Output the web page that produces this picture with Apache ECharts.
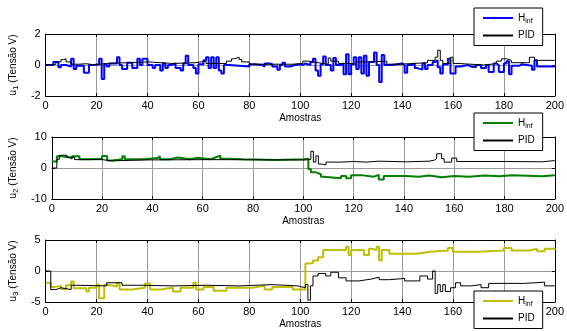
<!DOCTYPE html>
<html>
<head>
<meta charset="utf-8">
<script src="https://cdn.jsdelivr.net/npm/echarts@6/dist/echarts.min.js"></script>
<style>
html, body { margin: 0; padding: 0; background: #fff; }
#chart { width: 567px; height: 331px; }
</style>
</head>
<body>
<div id="chart"></div>
<script>
// pontos [amostra, tensão] (degraus)
var u1Hinf = [[0,0],[3,0.2],[5,-0.15],[6,0],[8,-0.1],[10,0.4],[11,-0.25],[12,-0.05],[15,-0.5],[17,0],[19,0.05],[21,0.4],[22,-0.9],[23,0.05],[24,-0.1],[25,0.1],[28,0.5],[29,0],[30,-0.25],[32,0.15],[34,-0.2],[36,0.4],[37,0],[38,0.4],[40,0],[42,-0.2],[43,0],[45,-0.35],[46,0.1],[47,-0.2],[48,0],[49,0.1],[51,-0.2],[53,-0.35],[54,0.1],[55,0.6],[56,0],[58,-0.2],[59,-0.55],[60,0.05],[62,0.3],[63,0.5],[64,-0.2],[65,0.5],[66,-0.2],[67,0.5],[68,-0.35],[69,-0.55],[70,0],[72,-0.05],[76,-0.1],[80,0.05],[82,0],[85,-0.1],[86,0.1],[88,0.05],[89,-0.1],[91,-0.3],[92,0],[93,0.15],[94,-0.1],[96,0],[98,0.05],[100,0],[101,0.1],[102,0],[104,0.2],[105,0.4],[106,-0.35],[107,-0.7],[108,0.05],[109,0.55],[110,0],[112,-0.35],[113,0.45],[114,0],[116,0.1],[117,-0.6],[118,0.7],[119,-0.6],[120,0.05],[121,0.5],[122,-0.25],[123,0.5],[124,-0.55],[125,0.6],[126,-0.7],[127,0.2],[129,0.8],[130,0],[131,-1.1],[132,0.65],[133,0],[136,0.05],[138,0.1],[140,0],[141,-0.5],[142,0],[144,0.1],[145,-0.2],[146,-0.3],[148,0.1],[149,-0.25],[150,0],[152,0.2],[153,0.3],[154,-0.15],[155,-0.55],[156,0.05],[158,0.4],[159,-0.55],[161,-0.1],[163,0],[166,-0.1],[167,-0.15],[169,0],[171,-0.2],[173,0],[174,-0.45],[176,0.1],[177,0],[178,-0.45],[180,0.1],[181,0.25],[182,-0.6],[183,-0.05],[186,0.05],[187,-0.05],[191,-0.3],[192,0.3],[193,-0.1],[200,-0.1]];
var u1Pid = [[0,0],[2,0.05],[4,0.2],[6,0.35],[7,0.4],[8,0.2],[10,0.05],[13,0.08],[16,0.02],[19,0.1],[24,0.15],[32,0.2],[40,0.18],[42,0.1],[50,0.15],[59,0.25],[63,0.1],[71,0.25],[73,0.4],[74,0.5],[76,0.35],[77,0.2],[80,0.05],[97,0.1],[101,0.25],[103,0.15],[107,0.05],[111,0.45],[112,0.25],[115,0.1],[119,0.05],[122,0.2],[128,0.25],[134,0.05],[139,0.15],[150,0.3],[153,0.5],[154,0.95],[155,0.3],[156,0.1],[159,0.5],[160,0.1],[162,0],[172,0.05],[175,0.1],[177,0.25],[179,0.4],[181,0.3],[183,0.15],[189,0.15],[190,0.5],[192,0.3],[200,0.3]];

var u2Hinf = [[0,2.1],[2,3.8],[4,3.5],[7,3.0],[8,3.8],[11,2.8],[15,3.0],[20,3.9],[22,2.4],[24,2.8],[28,3.8],[29,2.8],[37,3.2],[42,3.8],[43,2.8],[47,3.4],[50,2.8],[55,3.3],[58,2.8],[63,3.4],[65,4.0],[67,3.0],[71,2.8],[76,2.6],[89,2.8],[100,3.0],[102,-0.3],[103,-1.4],[105,-2.0],[107,-2.8],[108,-3.3],[115,-2.6],[117,-3.3],[119,-2.3],[123,-2.8],[128,-2.2],[130,-3.7],[132,-2.6],[141,-2.8],[146,-2.4],[150,-3.0],[155,-2.6],[160,-2.8],[166,-2.4],[172,-2.7],[178,-2.3],[183,-2.7],[195,-2.3],[200,-2.3]];
var u2Pid = [[0,0],[2,2.8],[3,4.1],[6,3.4],[9,2.7],[20,2.3],[24,2.6],[37,2.7],[63,2.6],[101,2.8],[103,5.4],[104,1.9],[105,3.9],[106,1.3],[107,1.0],[109,1.9],[115,2.1],[120,1.9],[125,2.2],[130,2.0],[141,2.2],[150,2.5],[152,3.0],[153,4.6],[155,3.0],[156,1.9],[159,3.2],[161,2.1],[180,2.0],[195,2.4],[200,2.4]];

var u3Hinf = [[0,-1.9],[2,-2.6],[3,-2.4],[6,-2.9],[8,-2.3],[10,-1.7],[11,-2.8],[16,-3.3],[17,-2.7],[20,-2.2],[21,-4.4],[23,-2.2],[24,-2.5],[28,-1.9],[29,-3.0],[34,-2.7],[39,-2.0],[41,-3.0],[45,-2.7],[50,-3.3],[53,-2.7],[58,-1.9],[59,-3.0],[62,-2.6],[66,-3.2],[71,-2.7],[81,-2.4],[86,-3.0],[89,-2.6],[97,-3.0],[102,1.2],[103,1.3],[105,1.7],[107,2.2],[109,3.4],[118,3.9],[119,2.6],[120,3.4],[125,2.6],[127,3.6],[128,3.4],[130,3.9],[131,1.7],[132,3.4],[135,2.8],[146,3.1],[151,3.3],[158,3.7],[160,3.1],[170,3.3],[180,3.7],[183,3.3],[190,3.6],[193,3.2],[196,3.6],[200,3.4]];
var u3Pid = [[0,0],[2,-3.0],[4,-2.7],[6,-3.0],[10,-2.3],[12,-2.4],[24,-1.9],[30,-2.3],[37,-2.4],[50,-2.3],[63,-2.4],[76,-2.2],[89,-2.4],[99,-2.7],[102,-2.2],[103,-4.7],[104,-2.4],[105,-0.8],[107,-0.4],[110,-0.8],[112,-0.2],[115,-1.1],[118,-1.6],[123,-1.3],[128,-1.0],[131,-1.4],[135,-1.2],[141,-1.6],[147,-0.8],[150,-1.3],[152,0.0],[153,-3.6],[154,-2.2],[155,-3.3],[156,-2.2],[157,-3.3],[159,-2.7],[161,-1.9],[163,-2.4],[167,-2.2],[171,-2.7],[174,-2.0],[188,-1.8],[196,-2.4],[200,-2.4]];

var yLimits = [2, 10, 5];
var yNames = ['1', '2', '3'];
var hinfColors = ['#0000ff', '#008000', '#bfbf00'];

var gridTops = [34, 137, 240];
var gridHeight = 62;
var legendTops = [8, 113, 291];

var chart = echarts.init(document.getElementById('chart'));

var hData = [u1Hinf, u2Hinf, u3Hinf];
var pData = [u1Pid, u2Pid, u3Pid];

var grids = [], xAxes = [], yAxes = [], series = [], legends = [];
var black = '#000';

for (var i = 0; i < 3; i++) {
	grids.push({ left: 45, right: 10, top: gridTops[i], height: gridHeight });

	// eixo x inferior
	xAxes.push({
		gridIndex: i, type: 'value', min: 0, max: 200, interval: 20,
		axisLine: { show: true, onZero: false, lineStyle: { color: black, width: 1 } },
		axisTick: { inside: true, length: 3, lineStyle: { color: black } },
		axisLabel: { fontSize: 11, color: black, margin: 4, fontFamily: 'Liberation Sans' },
		splitLine: { show: true, lineStyle: { color: '#9a9a9a', width: 1 } },
		name: 'Amostras', nameLocation: 'middle', nameGap: 17,
		nameTextStyle: { fontSize: 10, color: black, fontFamily: 'Liberation Sans' }
	});
	// eixo x superior (só marcas)
	xAxes.push({
		gridIndex: i, type: 'value', min: 0, max: 200, interval: 20, position: 'top',
		axisLine: { show: true, onZero: false, lineStyle: { color: black, width: 1 } },
		axisTick: { inside: true, length: 3, lineStyle: { color: black } },
		axisLabel: { show: false }, splitLine: { show: false }
	});
	yAxes.push({
		gridIndex: i, type: 'value', min: -yLimits[i], max: yLimits[i], interval: yLimits[i],
		axisLine: { show: true, onZero: false, lineStyle: { color: black, width: 1 } },
		axisTick: { inside: true, length: 3, lineStyle: { color: black } },
		axisLabel: { fontSize: 11, color: black, margin: 5, fontFamily: 'Liberation Sans' },
		splitLine: { show: true, lineStyle: { color: '#9a9a9a', width: 1 } },
		name: '{a|u}{s|' + yNames[i] + '}{a| (Tensão V)}',
		nameLocation: 'middle', nameGap: 22, nameRotate: 90,
		nameTextStyle: {
			color: black, fontFamily: 'Liberation Sans',
			rich: {
				a: { fontSize: 10, color: black, fontFamily: 'Liberation Sans' },
				s: { fontSize: 8, color: black, fontFamily: 'Liberation Sans', padding: [6, 0, 0, 0] }
			}
		}
	});
	yAxes.push({
		gridIndex: i, type: 'value', min: -yLimits[i], max: yLimits[i], interval: yLimits[i], position: 'right',
		axisLine: { show: true, onZero: false, lineStyle: { color: black, width: 1 } },
		axisTick: { inside: true, length: 3, lineStyle: { color: black } },
		axisLabel: { show: false }, splitLine: { show: false }
	});

	series.push({
		name: 'Hinf' + (i + 1), type: 'line', step: 'end',
		xAxisIndex: 2 * i, yAxisIndex: 2 * i,
		data: hData[i], symbol: 'none',
		lineStyle: { color: hinfColors[i], width: 2 }, itemStyle: { color: hinfColors[i] }
	});
	series.push({
		name: 'PID' + (i + 1), type: 'line', step: 'end',
		xAxisIndex: 2 * i, yAxisIndex: 2 * i,
		data: pData[i], symbol: 'none',
		lineStyle: { color: black, width: 1 }, itemStyle: { color: black }
	});

	legends.push({
		data: ['Hinf' + (i + 1), 'PID' + (i + 1)],
		orient: 'vertical', left: 474, top: legendTops[i],
		backgroundColor: '#fff', borderColor: black, borderWidth: 1,
		padding: [5, 8, 5, 8], itemGap: 6, itemWidth: 30, itemHeight: 12,
		selectedMode: false,
		itemStyle: { opacity: 0 },
		textStyle: {
			fontSize: 10, color: black, fontFamily: 'Liberation Sans',
			rich: {
				a: { fontSize: 10, color: black, fontFamily: 'Liberation Sans' },
				s: { fontSize: 7, color: black, fontFamily: 'Liberation Sans', padding: [6, 0, 0, 0] }
			}
		},
		formatter: function (n) {
			return n.indexOf('Hinf') === 0 ? '{a|H}{s|inf}' : 'PID';
		}
	});
}

var option = {
	animation: false,
	backgroundColor: '#fff',
	grid: grids,
	xAxis: xAxes,
	yAxis: yAxes,
	legend: legends,
	series: series
};

chart.setOption(option);
</script>
</body>
</html>
